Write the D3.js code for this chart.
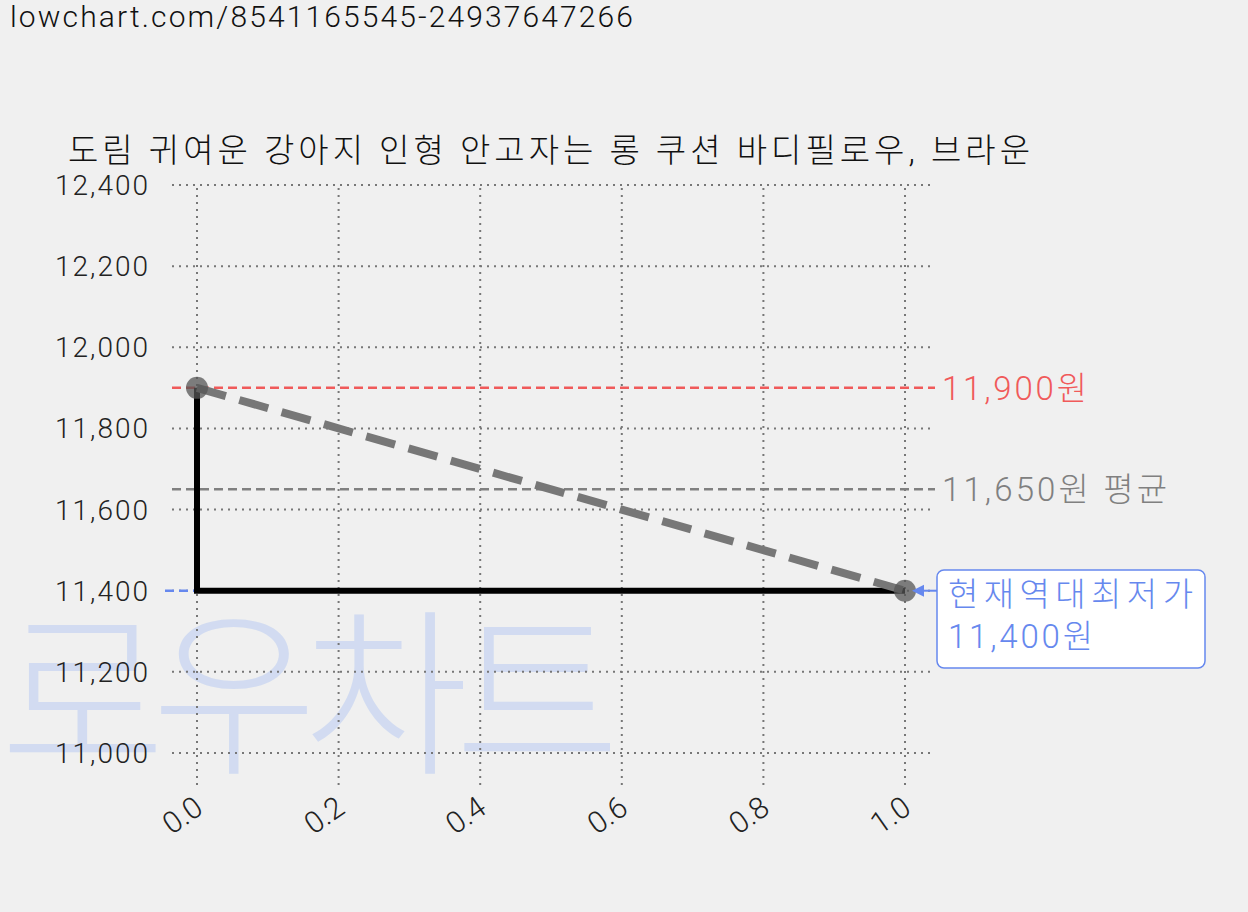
<!DOCTYPE html><html><head><meta charset="utf-8">
<script src="https://cdn.jsdelivr.net/npm/d3@7"></script>
<style>body{margin:0;background:#f0f0f0}text{font-family:Roboto,"Noto Sans CJK KR",sans-serif;font-weight:300}</style></head><body>
<svg id="c" width="1248" height="912"></svg>
<script>
const xTicks=[0,0.2,0.4,0.6,0.8,1.0];
const yTicks=[11000,11200,11400,11600,11800,12000,12200,12400];
const stepX=[0,0,1];
const stepY=[11900,11400,11400];
const trendX=[0,1];
const trendY=[11900,11400];
const maxPrice=11900, avgPrice=11650, minPrice=11400;
const title="도림 귀여운 강아지 인형 안고자는 롱 쿠션 바디필로우, 브라운";
const url="lowchart.com/8541165545-24937647266";

const svg=d3.select("#c");
const x=d3.scaleLinear().domain([0,1]).range([197,905]);
const y=d3.scaleLinear().domain([11000,12400]).range([753,185]);
const xl=172,xr=935,yt=188,yb=787;

svg.append("text").attr("x",10).attr("y",27).attr("font-size",30).attr("fill","#111").attr("textLength",623).text(url);
svg.append("text").attr("x",68).attr("y",162).attr("font-size",33).attr("fill","#111").attr("textLength",962).text(title);

svg.append("text").attr("x",0).attr("y",760).attr("font-size",180).attr("font-weight",900)
 .attr("fill","#c8d5f2").attr("opacity",0.75).attr("textLength",620).attr("font-family","Noto Sans CJK KR").text("로우차트");

const g=svg.append("g");
yTicks.forEach(t=>{g.append("line").attr("x1",xl).attr("x2",xr).attr("y1",y(t)).attr("y2",y(t)).attr("stroke","#777").attr("stroke-width",2).attr("stroke-dasharray","2,5");
 g.append("text").attr("x",148).attr("y",y(t)+10).attr("text-anchor","end").attr("font-size",28).attr("fill","#222").attr("textLength",93).text(d3.format(",")(t));});
xTicks.forEach(t=>{g.append("line").attr("x1",x(t)).attr("x2",x(t)).attr("y1",yt).attr("y2",yb).attr("stroke","#777").attr("stroke-width",2).attr("stroke-dasharray","2,5");
 g.append("text").attr("transform",`translate(${x(t)+8},${812}) rotate(-35)`).attr("text-anchor","end").attr("font-size",30).attr("fill","#222").text(t.toFixed(1));});

function hline(v,c,x1,x2){g.append("line").attr("x1",x1).attr("x2",x2).attr("y1",y(v)).attr("y2",y(v)).attr("stroke",c).attr("stroke-width",2.5).attr("stroke-dasharray","9,5");}
hline(maxPrice,"#f05a5a",xl,xr);
hline(avgPrice,"#808080",xl,xr);
hline(minPrice,"#6688ee",165,x(1));
svg.append("text").attr("x",942).attr("y",y(maxPrice)+12).attr("font-size",33).attr("fill","#f05a5a").attr("textLength",145).text("11,900원");
svg.append("text").attr("x",942).attr("y",y(avgPrice)+12).attr("font-size",33).attr("fill","#808080").attr("textLength",225).text("11,650원 평균");

const line=d3.line().x(d=>x(d[0])).y(d=>y(d[1]));
g.append("path").attr("d",line(stepX.map((v,i)=>[v,stepY[i]]))).attr("fill","none").attr("stroke","#000").attr("stroke-width",6);
g.append("path").attr("d",line(trendX.map((v,i)=>[v,trendY[i]]))).attr("fill","none").attr("stroke","#777").attr("stroke-width",8).attr("stroke-dasharray","30,14");
trendX.forEach((v,i)=>g.append("circle").attr("cx",x(v)).attr("cy",y(trendY[i])).attr("r",11).attr("fill","#555").attr("opacity",0.75));

svg.append("rect").attr("x",937).attr("y",570).attr("width",268).attr("height",98).attr("rx",7).attr("fill","#fff").attr("stroke","#6688ee").attr("stroke-width",1.5);
svg.append("line").attr("x1",937).attr("x2",915).attr("y1",y(minPrice)).attr("y2",y(minPrice)).attr("stroke","#6688ee").attr("stroke-width",2);
svg.append("path").attr("d",`M912,${y(minPrice)} l12,-6 l0,12 z`).attr("fill","#6688ee");
svg.append("text").attr("x",948).attr("y",606).attr("font-size",33).attr("fill","#6688ee").attr("textLength",245).text("현재역대최저가");
svg.append("text").attr("x",948).attr("y",648).attr("font-size",33).attr("fill","#6688ee").attr("textLength",145).text("11,400원");
</script></body></html>
